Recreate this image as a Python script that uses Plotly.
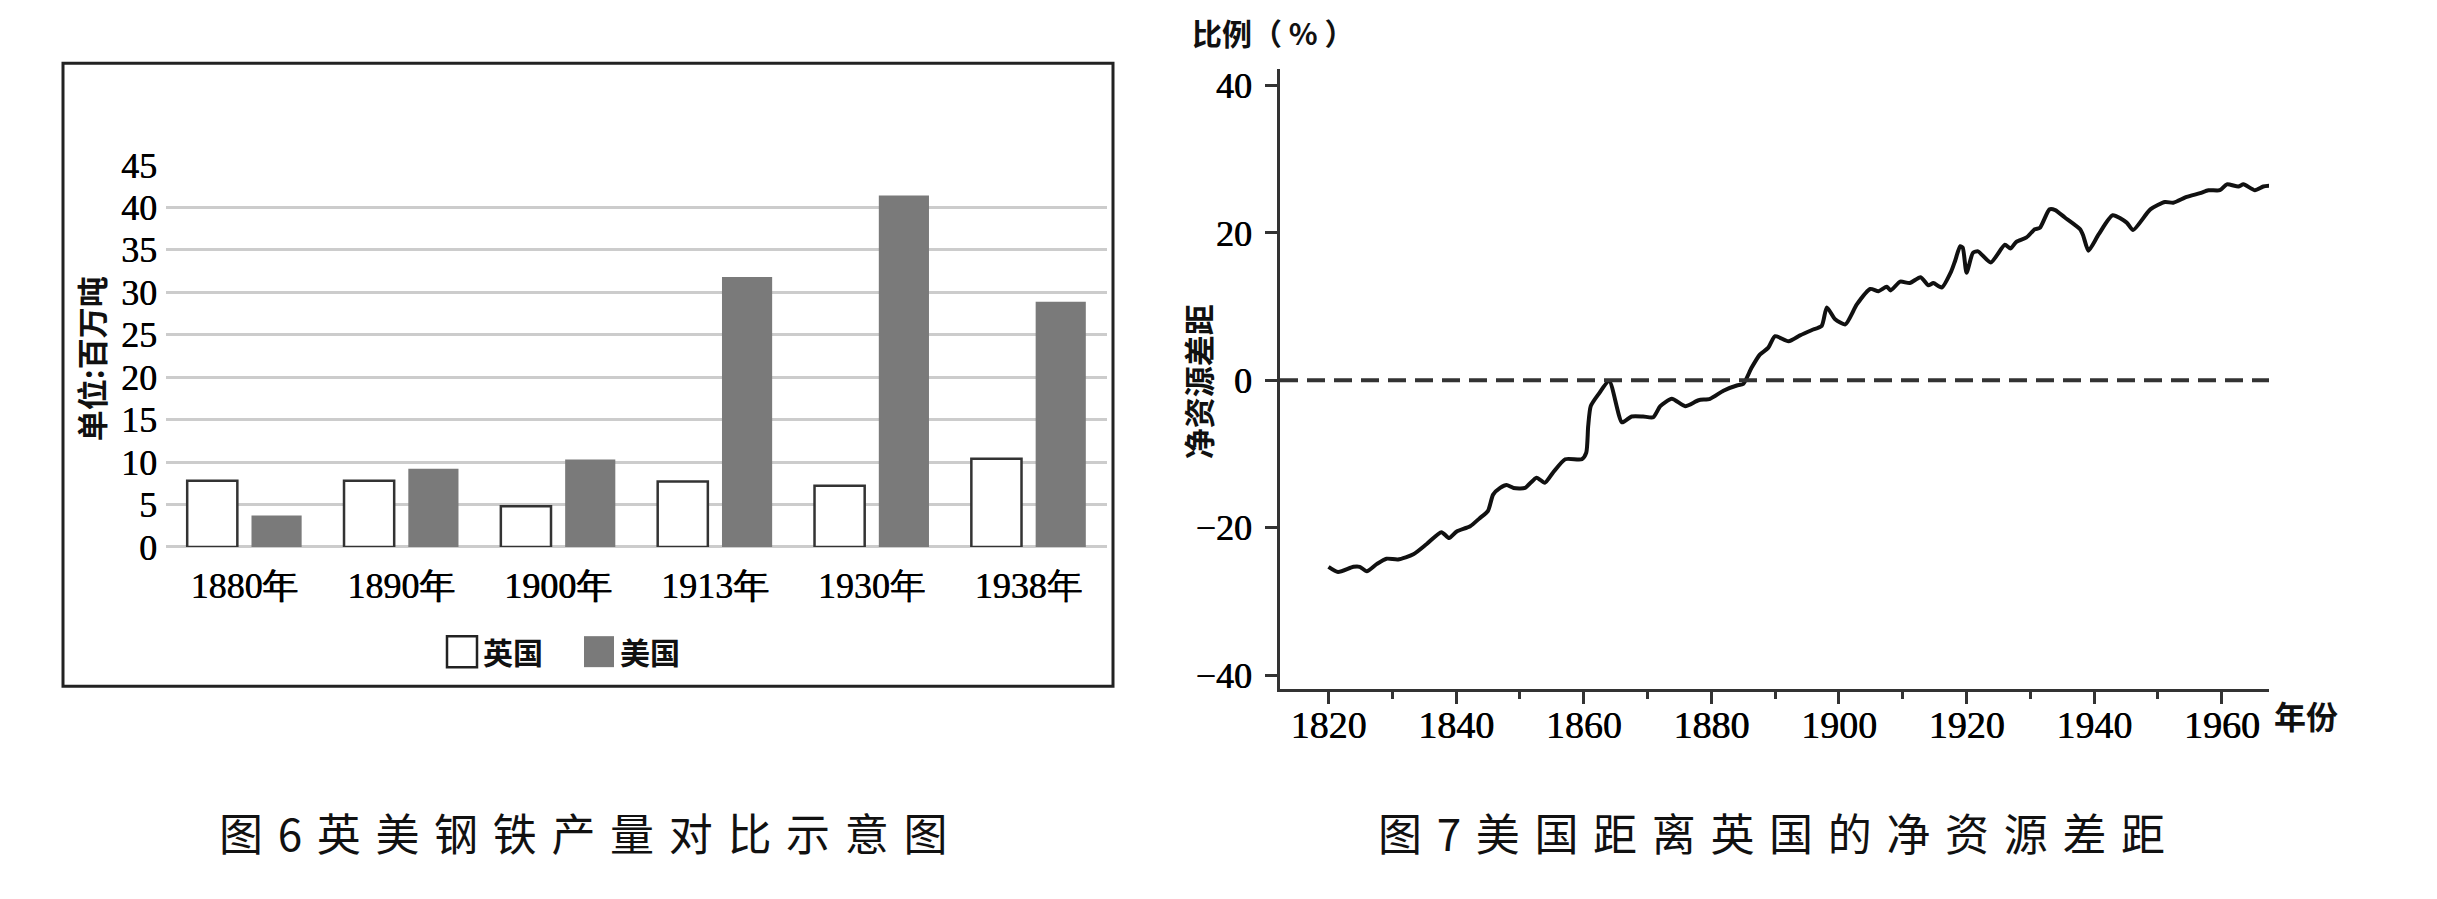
import plotly.graph_objects as go

# reference canvas and the figure drawn inside the 8px page margin
W, H = 2437, 899
M = 8
FW, FH = W - 2 * M, H - 2 * M
# the photographed page comes back squeezed vertically: seen = Y0 + SY * page
Y0, SY = 20.0, 0.955

# ---- 图6: steel output, million tonnes ----
steel_years = ["1880年", "1890年", "1900年", "1913年", "1930年", "1938年"]
uk_steel = [7.8, 7.8, 4.8, 7.7, 7.2, 10.4]
us_steel = [3.7, 9.2, 10.3, 31.8, 41.4, 28.9]
series_names = ["英国", "美国"]
steel_ticks = [0, 5, 10, 15, 20, 25, 30, 35, 40, 45]

# ---- 图7: net resource gap of the US vs the UK (%) ----
gap_years = [
    1820.0, 1821.5, 1823.9, 1824.9, 1826.0, 1827.6, 1829.1, 1830.9, 1833.3, 1835.4,
    1837.7, 1838.9, 1840.1, 1842.2, 1843.7, 1845.0, 1845.8, 1846.9, 1847.9, 1849.0,
    1850.8, 1852.6, 1853.9, 1855.2, 1857.1, 1859.7, 1860.4, 1860.7, 1861.1, 1862.3,
    1864.0, 1866.0, 1867.5, 1869.3, 1870.9, 1872.0, 1873.8, 1875.9, 1878.0, 1879.8,
    1881.9, 1884.0, 1885.0, 1886.3, 1887.6, 1888.9, 1890.0, 1892.1, 1893.9, 1895.7,
    1897.3, 1898.1, 1899.4, 1901.0, 1902.8, 1904.9, 1906.2, 1907.5, 1908.1, 1909.6,
    1911.1, 1912.8, 1914.0, 1914.8, 1916.1, 1917.6, 1918.2, 1919.0, 1919.4, 1920.0,
    1921.0, 1921.8, 1923.8, 1926.0, 1926.9, 1927.8, 1929.4, 1930.7, 1931.5, 1933.0,
    1933.9, 1935.4, 1937.8, 1938.3, 1939.1, 1940.7, 1942.9, 1945.1, 1946.1, 1948.8,
    1951.1, 1952.4, 1954.5, 1956.6, 1957.9, 1959.7, 1960.8, 1962.6, 1963.4, 1965.2,
    1966.5, 1967.5,
]
gap_values = [
    -25.3, -26.0, -25.3, -25.3, -25.9, -24.9, -24.2, -24.3, -23.6, -22.2,
    -20.6, -21.4, -20.5, -19.8, -18.7, -17.7, -15.5, -14.6, -14.2, -14.6,
    -14.6, -13.2, -13.9, -12.5, -10.7, -10.7, -9.8, -6.2, -3.5, -1.9,
    -0.1, -5.7, -4.9, -4.9, -5.0, -3.5, -2.5, -3.5, -2.7, -2.5,
    -1.4, -0.7, -0.5, 1.7, 3.5, 4.4, 6.0, 5.3, 6.1, 6.8,
    7.4, 9.9, 8.3, 7.6, 10.3, 12.4, 12.1, 12.7, 12.2, 13.4,
    13.2, 14.0, 12.9, 13.2, 12.6, 14.8, 16.2, 18.2, 18.0, 14.6,
    17.3, 17.5, 16.0, 18.4, 17.9, 18.8, 19.4, 20.5, 20.7, 23.2,
    23.1, 22.1, 20.5, 19.6, 17.6, 19.8, 22.4, 21.4, 20.4, 23.2,
    24.2, 24.1, 24.9, 25.4, 25.8, 25.8, 26.6, 26.3, 26.6, 25.8,
    26.3, 26.4,
]
gap_yticks = [-40, -20, 0, 20, 40]

captions = ["图 6 英美钢铁产量对比示意图", "图 7 美国距离英国的净资源差距"]


def px(x):
    # reference pixel -> paper fraction
    return (x - M) / FW


def py(y):
    page = (y - Y0) / SY
    return 1 - (page - M) / FH


def spaced(text):
    # wide letter spacing like the printed captions
    return "\u2004".join(text.replace(" ", ""))


SERIF = "Liberation Serif, Times New Roman, serif"
CJK = "Noto Sans CJK SC, sans-serif"
HEAVY = "0.6px 0 0 #000"

fig = go.Figure()

fig.add_trace(go.Bar(
    x=steel_years, y=uk_steel, name=series_names[0], showlegend=False,
    marker=dict(color="white", line=dict(color="#333333", width=2.5)),
    xaxis="x", yaxis="y",
))
fig.add_trace(go.Bar(
    x=steel_years, y=us_steel, name=series_names[1], showlegend=False,
    marker=dict(color="#7a7a7a", line=dict(width=0)),
    xaxis="x", yaxis="y",
))

fig.add_trace(go.Scatter(
    x=gap_years, y=gap_values, mode="lines", showlegend=False,
    line=dict(color="#111111", width=4, shape="spline", smoothing=0.6),
    xaxis="x2", yaxis="y2",
))

tick_serif = dict(family=SERIF, size=36, color="black", shadow=HEAVY)

fig.update_layout(
    width=FW, height=FH,
    margin=dict(l=0, r=0, t=0, b=0),
    paper_bgcolor="white", plot_bgcolor="white",
    barmode="group", bargap=0.18, bargroupgap=0.22,
    xaxis=dict(
        domain=[px(166), px(1107)], anchor="y", type="category",
        range=[-0.5, 5.5], showgrid=False, zeroline=False, showline=False,
        ticks="", tickfont=tick_serif, ticklabelstandoff=14,
    ),
    yaxis=dict(
        domain=[py(547.7), py(165.7)], anchor="x", range=[0, 45],
        tickvals=steel_ticks, showgrid=True, gridcolor="#cccccc", gridwidth=3,
        zeroline=True, zerolinecolor="#cccccc", zerolinewidth=3, showline=False,
        ticks="", tickfont=tick_serif, ticklabelstandoff=8,
    ),
    xaxis2=dict(
        domain=[px(1280), px(2269)], anchor="y2", range=[1812.4, 1967.4],
        tick0=1820, dtick=20, showgrid=False, zeroline=False,
        showline=True, linecolor="#333333", linewidth=3,
        ticks="outside", ticklen=12, tickwidth=3, tickcolor="#333333",
        minor=dict(tick0=1820, dtick=10, ticks="outside", ticklen=7,
                   tickwidth=3, tickcolor="#333333"),
        tickfont=dict(tick_serif, size=38), ticklabelstandoff=-12,
    ),
    yaxis2=dict(
        domain=[py(690), py(70)], anchor="x2", range=[-41.9, 42.2],
        tickvals=gap_yticks, showgrid=False, zeroline=False,
        showline=True, linecolor="#333333", linewidth=3,
        ticks="outside", ticklen=12, tickwidth=3, tickcolor="#333333",
        tickfont=tick_serif, ticklabelstandoff=6,
    ),
)

# dashed zero reference
fig.add_shape(type="line", xref="x2 domain", x0=0, x1=1, yref="y2", y0=0, y1=0,
              line=dict(color="#333333", width=4, dash="18px,9px"))

# frame around 图6
fig.add_shape(type="rect", xref="paper", yref="paper",
              x0=px(63), x1=px(1113), y0=py(687), y1=py(64),
              line=dict(color="#222222", width=3))

# legend of 图6
fig.add_shape(type="rect", xref="paper", yref="paper",
              x0=px(447), x1=px(477), y0=py(668), y1=py(637),
              fillcolor="white", line=dict(color="#222222", width=2.5))
fig.add_shape(type="rect", xref="paper", yref="paper",
              x0=px(584), x1=px(614), y0=py(668), y1=py(637),
              fillcolor="#7a7a7a", line=dict(width=0))

notes = [
    dict(text=series_names[0], x=px(481), y=py(652), xanchor="left", size=30),
    dict(text=series_names[1], x=px(618), y=py(652), xanchor="left", size=30),
    dict(text="单位:百万吨", x=px(90), y=py(360), xanchor="center", size=31, angle=-90),
    dict(text="比例（ % ）", x=px(1190), y=py(33), xanchor="left", size=30),
    dict(text="净资源差距", x=px(1197), y=py(383), xanchor="center", size=31, angle=-90),
    dict(text="年份", x=px(2272), y=py(716), xanchor="left", size=32),
]
for n in notes:
    fig.add_annotation(
        text="<b>" + n["text"] + "</b>", x=n["x"], y=n["y"], xref="paper", yref="paper",
        xanchor=n["xanchor"], yanchor="middle", showarrow=False,
        textangle=n.get("angle", 0),
        font=dict(family=CJK, size=n["size"], color="#111111"),
    )

for cap, cx in zip(captions, [583, 1771]):
    fig.add_annotation(
        text=spaced(cap), x=px(cx), y=py(833), xref="paper", yref="paper",
        xanchor="center", yanchor="middle", showarrow=False,
        font=dict(family=CJK, size=44, color="#111111"),
    )

fig.write_html("out.html")
